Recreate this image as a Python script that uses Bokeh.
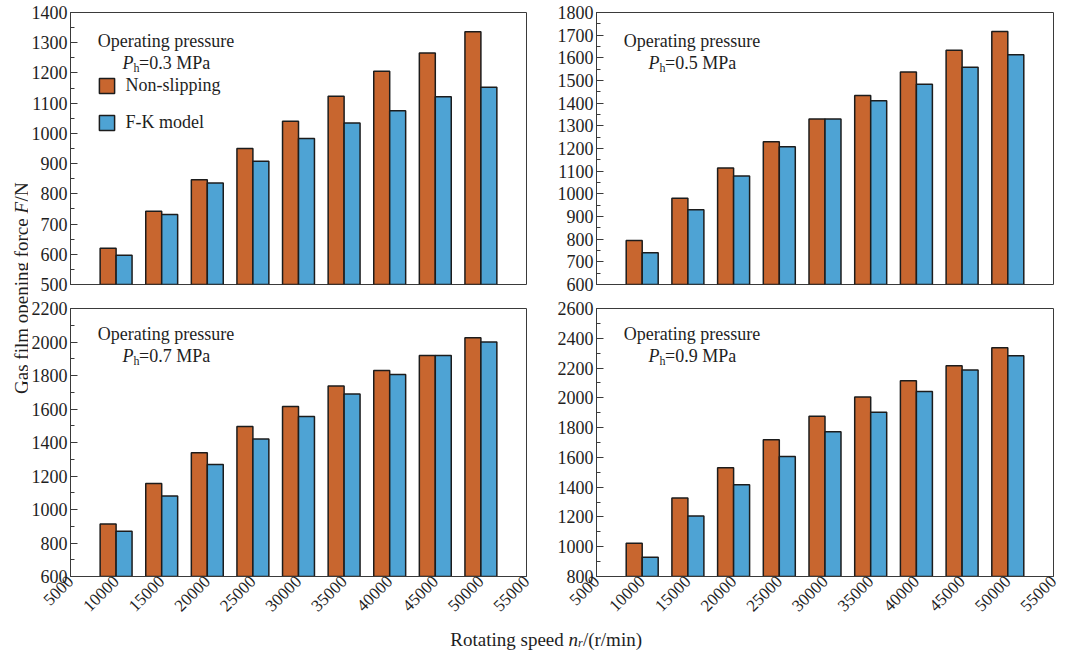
import math
from bokeh.plotting import figure
from bokeh.models import (ColumnDataSource, Range1d, SingleIntervalTicker, FixedTicker,
                          Label, Legend, LegendItem)
from bokeh.layouts import row, column
from bokeh.transform import dodge
from bokeh.embed import file_html
from bokeh.resources import INLINE

# ---------------- data ----------------
speeds = [10000, 15000, 20000, 25000, 30000, 35000, 40000, 45000, 50000]
x_ticks = [5000, 10000, 15000, 20000, 25000, 30000, 35000, 40000, 45000, 50000, 55000]
pressures = ["0.3", "0.5", "0.7", "0.9"]

non_slip_03 = [620, 742, 847, 950, 1040, 1123, 1206, 1266, 1336]
fk_03 = [597, 732, 836, 908, 983, 1034, 1075, 1121, 1153]
non_slip_05 = [794, 980, 1114, 1230, 1330, 1434, 1537, 1633, 1716]
fk_05 = [740, 930, 1079, 1208, 1330, 1411, 1484, 1559, 1614]
non_slip_07 = [914, 1155, 1339, 1495, 1615, 1737, 1830, 1919, 2025]
fk_07 = [870, 1081, 1268, 1421, 1555, 1689, 1806, 1919, 2000]
non_slip_09 = [1023, 1327, 1530, 1719, 1876, 2006, 2115, 2215, 2336]
fk_09 = [930, 1206, 1417, 1606, 1772, 1904, 2042, 2187, 2283]

y_starts = [500, 600, 600, 800]
y_ends = [1400, 1800, 2200, 2600]
y_steps = [100, 100, 200, 200]

series_ns = [non_slip_03, non_slip_05, non_slip_07, non_slip_09]
series_fk = [fk_03, fk_05, fk_07, fk_09]

# ---------------- style ----------------
FONT = "Liberation Serif"
ORANGE = "#C8662F"
BLUE = "#4EA3D4"
EDGE = "#1C1C1C"
AXIS = "#3A3A3A"
TEXT = "#1E1E1E"
FRAME_W = 457
BAR_W = 1750


def make_panel(i, left_b, right_b, top_b, frame_h, bottom_b, show_x, with_legend):
    p = figure(width=left_b + FRAME_W + right_b, height=top_b + frame_h + bottom_b,
               x_range=Range1d(5000, 55000), y_range=Range1d(y_starts[i], y_ends[i]),
               output_backend="svg", toolbar_location=None,
               min_border_left=left_b, min_border_right=right_b,
               min_border_top=top_b, min_border_bottom=bottom_b,
               background_fill_color="white", border_fill_color="white")
    p.grid.visible = False
    p.outline_line_color = AXIS
    p.outline_line_width = 1
    p.outline_line_alpha = 1

    src = ColumnDataSource(dict(speed=speeds, ns=series_ns[i], fk=series_fk[i]))
    r1 = p.vbar(x=dodge("speed", -BAR_W / 2, range=p.x_range), top="ns", bottom=y_starts[i],
                width=BAR_W, source=src, fill_color=ORANGE, line_color=EDGE, line_width=1.5)
    r2 = p.vbar(x=dodge("speed", BAR_W / 2, range=p.x_range), top="fk", bottom=y_starts[i],
                width=BAR_W, source=src, fill_color=BLUE, line_color=EDGE, line_width=1.5)

    ya = p.yaxis[0]
    ya.ticker = SingleIntervalTicker(interval=y_steps[i], num_minor_ticks=2)
    ya.major_tick_in = 7
    ya.major_tick_out = 0
    ya.minor_tick_in = 4
    ya.minor_tick_out = 0
    ya.major_tick_line_color = AXIS
    ya.minor_tick_line_color = AXIS
    ya.axis_line_color = AXIS
    ya.major_label_standoff = 3
    ya.major_label_text_font = FONT
    ya.major_label_text_font_size = "18px"
    ya.major_label_text_color = TEXT

    xa = p.xaxis[0]
    if show_x:
        xa.ticker = FixedTicker(ticks=x_ticks, minor_ticks=[])
        xa.major_tick_in = 0
        xa.major_tick_out = 0
        xa.minor_tick_in = 0
        xa.minor_tick_out = 0
        xa.axis_line_color = AXIS
        xa.major_label_orientation = math.pi / 4
        xa.major_label_standoff = 2
        xa.major_label_text_font = FONT
        xa.major_label_text_font_size = "17px"
        xa.major_label_text_color = TEXT
    else:
        xa.visible = False

    common = dict(x_units="screen", y_units="screen", text_font=FONT,
                  text_color=TEXT, text_baseline="alphabetic")
    p.add_layout(Label(x=95.5, y=frame_h - 28.5, text="Operating pressure", text_align="center",
                       text_font_size="18px", **common))
    p.add_layout(Label(x=52, y=frame_h - 50, text="P", text_font_style="italic",
                       text_font_size="18px", **common))
    p.add_layout(Label(x=63, y=frame_h - 55, text="h", text_font_size="12px", **common))
    p.add_layout(Label(x=68.5, y=frame_h - 50, text="=" + pressures[i] + " MPa",
                       text_font_size="18px", **common))

    if with_legend:
        legend = Legend(items=[LegendItem(label="Non-slipping", renderers=[r1]),
                               LegendItem(label="F-K model", renderers=[r2])],
                        location=(26.5, frame_h - 121), orientation="vertical",
                        glyph_width=19, glyph_height=19, label_height=19,
                        label_standoff=10, spacing=16, padding=0, margin=0,
                        border_line_alpha=0, background_fill_alpha=0,
                        label_text_font=FONT, label_text_font_size="18px",
                        label_text_color=TEXT, label_text_baseline="middle")
        p.add_layout(legend)
    return p


STRIP_W = 28
TOTAL_H = 651
p1 = make_panel(0, 41, 10, 12, 272, 12, False, True)
p2 = make_panel(1, 60, 8, 12, 272, 12, False, False)
p3 = make_panel(2, 41, 10, 12, 271, 40, True, False)
p4 = make_panel(3, 60, 8, 12, 271, 40, True, False)

GRID_H = p1.height + p3.height

# y-axis title strip
yl = figure(width=STRIP_W, height=GRID_H, x_range=Range1d(0, 1), y_range=Range1d(0, 1),
            output_backend="svg", toolbar_location=None, min_border=0,
            x_axis_location=None, y_axis_location=None, outline_line_color=None)
yl.grid.visible = False
ycommon = dict(x_units="screen", y_units="screen", text_font=FONT, text_color=TEXT,
               text_baseline="alphabetic", text_align="left", angle=math.pi / 2,
               text_font_size="19px")
# centre of the title about 288 px from the top of the strip
y0 = GRID_H - 288 - 105.5
yl.add_layout(Label(x=21, y=y0, text="Gas film opening force", **ycommon))
yl.add_layout(Label(x=21, y=y0 + 180.5, text="F", text_font_style="italic", **ycommon))
yl.add_layout(Label(x=21, y=y0 + 192.6, text="/N", **ycommon))

# x-axis title strip
TOTAL_W = STRIP_W + p1.width + p2.width
xl = figure(width=TOTAL_W, height=TOTAL_H - GRID_H, x_range=Range1d(0, 1), y_range=Range1d(0, 1),
            output_backend="svg", toolbar_location=None, min_border=0,
            x_axis_location=None, y_axis_location=None, outline_line_color=None)
xl.grid.visible = False
xcommon = dict(x_units="screen", y_units="screen", text_font=FONT, text_color=TEXT,
               text_baseline="alphabetic", text_align="left")
x0 = 449.8
xb = 12
xl.add_layout(Label(x=x0, y=xb, text="Rotating speed", text_font_size="19px", **xcommon))
xl.add_layout(Label(x=x0 + 118.2, y=xb, text="n", text_font_style="italic",
                    text_font_size="19px", **xcommon))
xl.add_layout(Label(x=x0 + 127.7, y=xb - 3, text="r", text_font_style="italic",
                    text_font_size="12px", **xcommon))
xl.add_layout(Label(x=x0 + 132.6, y=xb, text="/(r/min)", text_font_size="19px", **xcommon))

layout = column(row(yl, column(row(p1, p2), row(p3, p4))), xl)

open("out.html", "w").write(file_html(layout, INLINE))
